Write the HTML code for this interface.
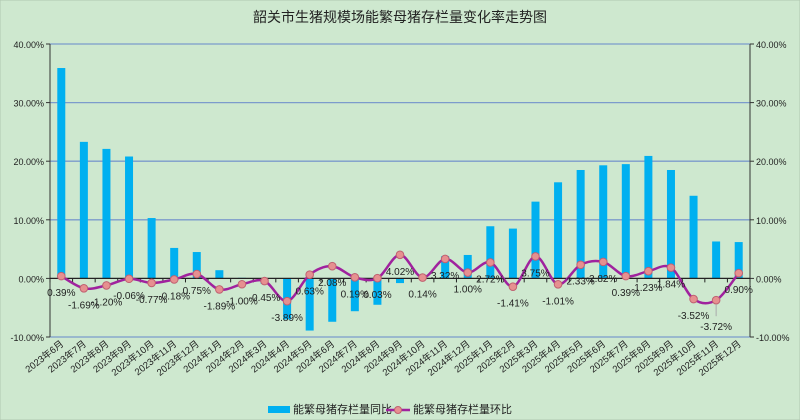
<!DOCTYPE html>
<html><head><meta charset="utf-8"><style>
body{margin:0;background:#cee8cf;}
svg{display:block;font-family:"Liberation Sans","Noto Sans CJK SC",sans-serif;}
</style></head><body>
<svg id="c" width="800" height="420">
<rect width="800" height="420" fill="#cee8cf" stroke="#b0c8b0"/>
<text x="400" y="22" text-anchor="middle" font-size="14" fill="#222">韶关市生猪规模场能繁母猪存栏量变化率走势图</text>
<g id="grid"></g><g id="bars"></g><g id="axes"></g><g id="line"></g><g id="labels"></g>
<g>
<rect x="268" y="406" width="22" height="7" fill="#00b0f0"/>
<text x="293" y="413" font-size="11" fill="#222">能繁母猪存栏量同比</text>
<line x1="386" y1="410" x2="410" y2="410" stroke="#a0229e" stroke-width="2.5"/>
<circle cx="398" cy="410" r="3.5" fill="#e69090" stroke="#c06070"/>
<text x="413" y="413" font-size="11" fill="#222">能繁母猪存栏量环比</text>
</g>
</svg>
<script>
const categories=["2023年6月","2023年7月","2023年8月","2023年9月","2023年10月","2023年11月","2023年12月","2024年1月","2024年2月","2024年3月","2024年4月","2024年5月","2024年6月","2024年7月","2024年8月","2024年9月","2024年10月","2024年11月","2024年12月","2025年1月","2025年2月","2025年3月","2025年4月","2025年5月","2025年6月","2025年7月","2025年8月","2025年9月","2025年10月","2025年11月","2025年12月"];
const yoyValues=[35.9,23.3,22.1,20.8,10.3,5.2,4.5,1.4,0.1,-0.9,-7.0,-8.9,-7.4,-5.6,-4.5,-0.8,0.1,3.8,4.0,8.9,8.5,13.1,16.4,18.5,19.3,19.5,20.9,18.5,14.1,6.3,6.2];
const momValues=[0.39,-1.69,-1.20,-0.06,-0.77,-0.18,0.75,-1.89,-1.00,-0.45,-3.89,0.63,2.08,0.19,0.03,4.02,0.14,3.32,1.00,2.72,-1.41,3.75,-1.01,2.33,2.82,0.39,1.23,1.84,-3.52,-3.72,0.90];
const yTicks=[40,30,20,10,0,-10];
const NS="http://www.w3.org/2000/svg";
const L=50,R=750,T=44,B=337,yMax=40,yMin=-10;
const n=categories.length,step=(R-L)/n;
function x(i){return L+step*(i+0.5);}
function y(v){return T+(yMax-v)/(yMax-yMin)*(B-T);}
function mk(tag,attrs,parent){const e=document.createElementNS(NS,tag);for(const k in attrs)e.setAttribute(k,attrs[k]);parent.appendChild(e);return e;}
const grid=document.getElementById('grid'),axes=document.getElementById('axes'),bars=document.getElementById('bars'),line=document.getElementById('line'),labels=document.getElementById('labels');
yTicks.forEach(t=>{
  if(t!==0){const g=mk('line',{x1:L,x2:R,y1:y(t),y2:y(t),stroke:'#7c9bcc','stroke-width':1.3},grid);
  
  }
  const a=mk('text',{x:L-6,y:y(t)+4,'text-anchor':'end','font-size':9,fill:'#222'},axes);a.textContent=t.toFixed(2)+'%';
  
  
  const b=mk('text',{x:R+6,y:y(t)+4,'font-size':9,fill:'#222'},axes);b.textContent=t.toFixed(2)+'%';
  
  
  mk('line',{x1:L-4,x2:L,y1:y(t),y2:y(t),stroke:'#333'},axes);
  mk('line',{x1:R,x2:R+4,y1:y(t),y2:y(t),stroke:'#333'},axes);
});
let la=mk('line',{x1:L,x2:L,y1:T,y2:B,stroke:'#333'},axes);


let ra=mk('line',{x1:R,x2:R,y1:T,y2:B,stroke:'#333'},axes);


let xa=mk('line',{x1:L,x2:R,y1:y(0),y2:y(0),stroke:'#222','stroke-width':1.2},axes);


for(let i=0;i<=n;i++)mk('line',{x1:L+step*i,x2:L+step*i,y1:y(0),y2:y(0)+4,stroke:'#222'},axes);
categories.forEach((c,i)=>{
  const t=mk('text',{x:x(i)+3,y:B+8,'text-anchor':'end','font-size':9.5,fill:'#222',transform:`rotate(-38 ${x(i)+3} ${B+8})`},axes);
  t.textContent=c;
  
  
});
yoyValues.forEach((v,i)=>{
  const y0=y(0),yv=y(v);
  const r=mk('rect',{x:x(i)-4,width:8,y:Math.min(y0,yv),height:Math.abs(yv-y0),fill:'#00b0f0'},bars);
  
  
});
const pts=momValues.map((v,i)=>[x(i),y(v)]);
let d='M'+pts[0][0]+','+pts[0][1];
for(let i=0;i<pts.length-1;i++){
  const p0=pts[Math.max(0,i-1)],p1=pts[i],p2=pts[i+1],p3=pts[Math.min(pts.length-1,i+2)];
  const c1=[p1[0]+(p2[0]-p0[0])/6,p1[1]+(p2[1]-p0[1])/6],c2=[p2[0]-(p3[0]-p1[0])/6,p2[1]-(p3[1]-p1[1])/6];
  d+=` C${c1[0]},${c1[1]} ${c2[0]},${c2[1]} ${p2[0]},${p2[1]}`;
}
const path=mk('path',{d:d,fill:'none',stroke:'#a0229e','stroke-width':2.5},line);


pts.forEach((p,i)=>{
  const c=mk('circle',{cx:p[0],cy:p[1],r:3.8,fill:'#e69090',stroke:'#c06070'},line);
  
  
  const extra=(i===n-2)?26:16;
  if(i===n-2)mk('line',{x1:p[0],x2:p[0],y1:p[1]+4,y2:p[1]+extra-10,stroke:'#aaa'},labels);
  const t=mk('text',{x:p[0],y:p[1]+extra+4,'text-anchor':'middle','font-size':10,fill:'#222'},labels);
  t.textContent=momValues[i].toFixed(2)+'%';
  
  
});
</script>
</body></html>
